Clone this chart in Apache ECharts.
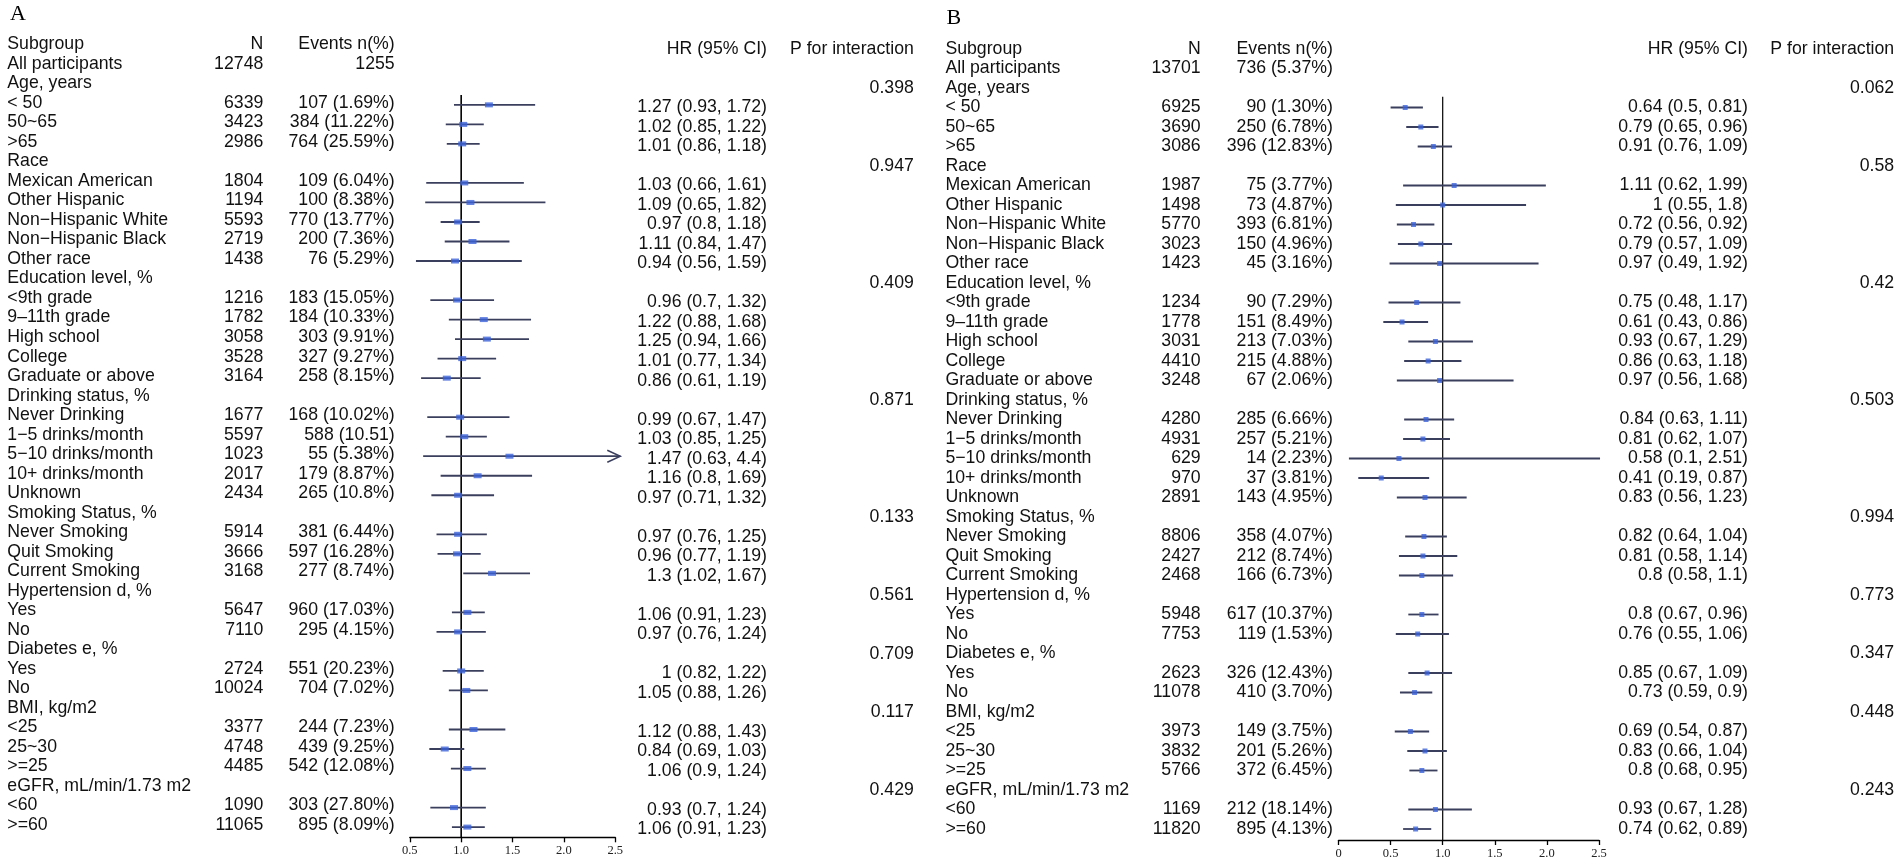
<!DOCTYPE html>
<html><head><meta charset="utf-8">
<script src="https://cdn.jsdelivr.net/npm/echarts@6/dist/echarts.min.js"></script>
<style>html,body{margin:0;padding:0;background:#fff}#c{width:1902px;height:868px}</style>
</head><body><div id="c"></div>
<script>
// ---------------- DATA ----------------
const headers = ['Subgroup', 'N', 'Events n(%)', 'HR (95% CI)', 'P for interaction'];
const panelLabels = ['A', 'B'];
const subgroups = ['All participants','Age, years','< 50','50~65','>65','Race','Mexican American','Other Hispanic',
  'Non\u2212Hispanic White','Non\u2212Hispanic Black','Other race','Education level, %','<9th grade','9\u201311th grade',
  'High school','College','Graduate or above','Drinking status, %','Never Drinking','1\u22125 drinks/month',
  '5\u221210 drinks/month','10+ drinks/month','Unknown','Smoking Status, %','Never Smoking','Quit Smoking',
  'Current Smoking','Hypertension d, %','Yes','No','Diabetes e, %','Yes','No','BMI, kg/m2','<25','25~30','>=25',
  'eGFR, mL/min/1.73 m2','<60','>=60'];

const nA = ['12748','','6339','3423','2986','','1804','1194','5593','2719','1438','','1216','1782','3058','3528','3164',
  '','1677','5597','1023','2017','2434','','5914','3666','3168','','5647','7110','','2724','10024','','3377','4748','4485',
  '','1090','11065'];
const eventsA = ['1255','','107 (1.69%)','384 (11.22%)','764 (25.59%)','','109 (6.04%)','100 (8.38%)','770 (13.77%)',
  '200 (7.36%)','76 (5.29%)','','183 (15.05%)','184 (10.33%)','303 (9.91%)','327 (9.27%)','258 (8.15%)','',
  '168 (10.02%)','588 (10.51)','55 (5.38%)','179 (8.87%)','265 (10.8%)','','381 (6.44%)','597 (16.28%)','277 (8.74%)',
  '','960 (17.03%)','295 (4.15%)','','551 (20.23%)','704 (7.02%)','','244 (7.23%)','439 (9.25%)','542 (12.08%)','',
  '303 (27.80%)','895 (8.09%)'];
const hrA = [null,null,1.27,1.02,1.01,null,1.03,1.09,0.97,1.11,0.94,null,0.96,1.22,1.25,1.01,0.86,null,0.99,1.03,1.47,1.16,0.97,
  null,0.97,0.96,1.3,null,1.06,0.97,null,1,1.05,null,1.12,0.84,1.06,null,0.93,1.06];
const loA = [null,null,0.93,0.85,0.86,null,0.66,0.65,0.8,0.84,0.56,null,0.7,0.88,0.94,0.77,0.61,null,0.67,0.85,0.63,0.8,0.71,
  null,0.76,0.77,1.02,null,0.91,0.76,null,0.82,0.88,null,0.88,0.69,0.9,null,0.7,0.91];
const hiA = [null,null,1.72,1.22,1.18,null,1.61,1.82,1.18,1.47,1.59,null,1.32,1.68,1.66,1.34,1.19,null,1.47,1.25,4.4,1.69,1.32,
  null,1.25,1.19,1.67,null,1.23,1.24,null,1.22,1.26,null,1.43,1.03,1.24,null,1.24,1.23];
const pA = ['','0.398','','','','0.947','','','','','','0.409','','','','','','0.871','','','','','','0.133','','','',
  '0.561','','','0.709','','','0.117','','','','0.429','',''];

const nB = ['13701','','6925','3690','3086','','1987','1498','5770','3023','1423','','1234','1778','3031','4410','3248',
  '','4280','4931','629','970','2891','','8806','2427','2468','','5948','7753','','2623','11078','','3973','3832','5766',
  '','1169','11820'];
const eventsB = ['736 (5.37%)','','90 (1.30%)','250 (6.78%)','396 (12.83%)','','75 (3.77%)','73 (4.87%)','393 (6.81%)',
  '150 (4.96%)','45 (3.16%)','','90 (7.29%)','151 (8.49%)','213 (7.03%)','215 (4.88%)','67 (2.06%)','',
  '285 (6.66%)','257 (5.21%)','14 (2.23%)','37 (3.81%)','143 (4.95%)','','358 (4.07%)','212 (8.74%)','166 (6.73%)',
  '','617 (10.37%)','119 (1.53%)','','326 (12.43%)','410 (3.70%)','','149 (3.75%)','201 (5.26%)','372 (6.45%)','',
  '212 (18.14%)','895 (4.13%)'];
const hrB = [null,null,0.64,0.79,0.91,null,1.11,1,0.72,0.79,0.97,null,0.75,0.61,0.93,0.86,0.97,null,0.84,0.81,0.58,0.41,0.83,
  null,0.82,0.81,0.8,null,0.8,0.76,null,0.85,0.73,null,0.69,0.83,0.8,null,0.93,0.74];
const loB = [null,null,0.5,0.65,0.76,null,0.62,0.55,0.56,0.57,0.49,null,0.48,0.43,0.67,0.63,0.56,null,0.63,0.62,0.1,0.19,0.56,
  null,0.64,0.58,0.58,null,0.67,0.55,null,0.67,0.59,null,0.54,0.66,0.68,null,0.67,0.62];
const hiB = [null,null,0.81,0.96,1.09,null,1.99,1.8,0.92,1.09,1.92,null,1.17,0.86,1.29,1.18,1.68,null,1.11,1.07,2.51,0.87,1.23,
  null,1.04,1.14,1.1,null,0.96,1.06,null,1.09,0.9,null,0.87,1.04,0.95,null,1.28,0.89];
const pB = ['','0.062','','','','0.58','','','','','','0.42','','','','','','0.503','','','','','','0.994','','','',
  '0.773','','','0.347','','','0.448','','','','0.243','',''];

const tickA = {min: 0.5, max: 2.5, interval: 0.5};
const tickB = {min: 0, max: 2.5, interval: 0.5};

// ---------------- LAYOUT / STYLE ----------------
const W = 1902, H = 868;
const FONT = '17.7px "Liberation Sans", Arial, sans-serif';
const TXT = '#111';
const CI_COLOR = '#3b3f5e';
const MK_COLOR = '#3b62d8';
const NROWS = 40;
const LA = {rowTop: 44.3, rightTop: 48.8, markTop: 46.3, pitch: 19.52, sub: 7.3, n: 263.3, ev: 394.7, hr: 767, p: 913.8,
  plotLeft: 409.8, plotRight: 615.3, plotTop: 95, axisY: 837.3, mk: [8, 5], refW: 1.6, label: [10, 14.5]};
const LB = {rowTop: 49, rightTop: 49, markTop: 49, pitch: 19.5, sub: 945.4, n: 1200.7, ev: 1332.9, hr: 1748, p: 1894.2,
  plotLeft: 1338.5, plotRight: 1599, plotTop: 96.7, axisY: 840, mk: [5, 5], refW: 1.2, label: [946.4, 18.5]};

const grids = [], xAxes = [], yAxes = [], series = [];

function addTextGrid(top, pitch) {
  grids.push({left: 0, width: W, top: top, height: NROWS * pitch});
  xAxes.push({type: 'value', min: 0, max: W, show: false, gridIndex: grids.length - 1});
  yAxes.push({type: 'value', min: 0, max: NROWS, inverse: true, show: false, gridIndex: grids.length - 1});
  return grids.length - 1;
}
function textCol(gi, x, texts, align) {
  const items = [];
  texts.forEach((t, i) => { if (t !== '' && t != null) items.push({value: [x, i], t: t}); });
  series.push({
    type: 'custom', coordinateSystem: 'cartesian2d', xAxisIndex: gi, yAxisIndex: gi, silent: true, clip: false,
    data: items,
    renderItem: function (params, api) {
      const p = api.coord([api.value(0), api.value(1)]);
      return {type: 'text', x: p[0], y: p[1],
        style: {text: items[params.dataIndex].t, fill: TXT, font: FONT, align: align, verticalAlign: 'middle'}};
    }
  });
}
function fmtHR(h, l, u) { return h == null ? '' : h + ' (' + l + ', ' + u + ')'; }

function panel(L, n, ev, hr, lo, hi, p, ticks) {
  const gl = addTextGrid(L.rowTop, L.pitch);
  const gr = (L.rightTop === L.rowTop) ? gl : addTextGrid(L.rightTop, L.pitch);
  textCol(gl, L.sub, [headers[0]].concat(subgroups), 'left');
  textCol(gl, L.n, [headers[1]].concat(n), 'right');
  textCol(gl, L.ev, [headers[2]].concat(ev), 'right');
  textCol(gr, L.hr, [headers[3]].concat(hr.map((h, i) => fmtHR(h, lo[i], hi[i]))), 'right');
  textCol(gr, L.p, [headers[4]].concat(p), 'right');

  // forest grid: y = row index (row 0 = header)
  const yMin = (L.plotTop - L.markTop) / L.pitch;
  const yMax = (L.axisY - L.markTop) / L.pitch;
  grids.push({left: L.plotLeft, width: L.plotRight - L.plotLeft, top: L.plotTop, height: L.axisY - L.plotTop});
  const g = grids.length - 1;
  xAxes.push({
    type: 'value', gridIndex: g, min: ticks.min, max: ticks.max, interval: ticks.interval, position: 'bottom',
    axisLine: {show: true, onZero: false, lineStyle: {color: '#000', width: 1.3}},
    axisTick: {show: true, length: 5, lineStyle: {color: '#000', width: 1.3}},
    axisLabel: {show: true, margin: 7, color: '#222', fontFamily: '"Liberation Serif", "Times New Roman", serif', fontSize: 12.5,
      formatter: v => v === 0 ? '0' : v.toFixed(1)},
    splitLine: {show: false}
  });
  yAxes.push({type: 'value', gridIndex: g, min: yMin, max: yMax, inverse: true, show: false});

  // reference line at HR = 1
  series.push({type: 'line', xAxisIndex: g, yAxisIndex: g, data: [[1, yMin], [1, yMax]], symbol: 'none', silent: true,
    lineStyle: {color: '#000', width: L.refW}, z: 3});

  const ciData = [], mkData = [];
  hr.forEach((h, i) => { if (h != null) { ciData.push([lo[i], hi[i], i + 1]); mkData.push([h, i + 1]); } });
  series.push({
    type: 'custom', coordinateSystem: 'cartesian2d', xAxisIndex: g, yAxisIndex: g, silent: true, clip: false, z: 4,
    data: ciData,
    renderItem: function (params, api) {
      const l = api.value(0), u = api.value(1), r = api.value(2);
      const p1 = api.coord([l, r]);
      const over = u > ticks.max + 0.02;
      const p2 = api.coord([over ? ticks.max : u, r]);
      if (over) p2[0] += 5;
      const children = [{type: 'line', shape: {x1: p1[0], y1: p1[1], x2: p2[0], y2: p2[1]},
        style: {stroke: CI_COLOR, lineWidth: 1.8}}];
      if (over) children.push({type: 'polyline',
        shape: {points: [[p2[0] - 13, p2[1] - 6], [p2[0], p2[1]], [p2[0] - 13, p2[1] + 6]]},
        style: {stroke: CI_COLOR, lineWidth: 1.5, fill: null}});
      return {type: 'group', children: children};
    }
  });
  series.push({type: 'scatter', xAxisIndex: g, yAxisIndex: g, data: mkData, symbol: 'rect', symbolSize: L.mk,
    itemStyle: {color: MK_COLOR}, silent: true, z: 5});
}

panel(LA, nA, eventsA, hrA, loA, hiA, pA, tickA);
panel(LB, nB, eventsB, hrB, loB, hiB, pB, tickB);

const chart = echarts.init(document.getElementById('c'), null, {renderer: 'canvas'});
chart.setOption({
  animation: false,
  backgroundColor: '#fff',
  grid: grids, xAxis: xAxes, yAxis: yAxes, series: series,
  graphic: [LA, LB].map((L, k) => ({type: 'text', x: L.label[0], y: L.label[1], silent: true,
    style: {text: panelLabels[k], fill: '#000', font: '22px "Liberation Serif", "Times New Roman", serif', verticalAlign: 'middle'}}))
});
</script></body></html>
